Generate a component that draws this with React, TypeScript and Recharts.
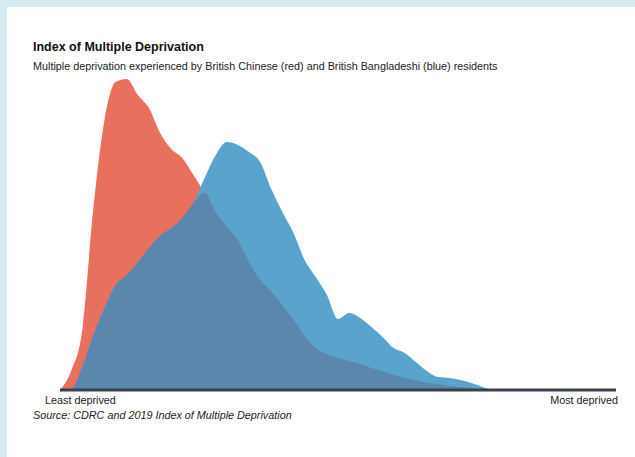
import { ComposedChart, Area, XAxis, YAxis, ReferenceLine } from "recharts";

// deprivation percentile, 0 = least deprived, 100 = most deprived
const deprivation = [
  0, 2, 4, 6, 8, 10, 12, 14, 16, 18, 20, 22, 24, 26, 28, 30, 32, 34, 36, 38, 40,
  42, 44, 46, 48, 50, 52, 54, 56, 58, 60, 62, 64, 66, 68, 70, 72, 74, 76, 78, 80,
  82, 84, 86, 88, 90, 92, 94, 96, 98, 100,
];

// density (arbitrary units)
const chinese = [
  0, 19, 60, 182, 270, 308, 311, 295, 282, 257, 241, 232, 215, 197, 178, 163,
  150, 128, 110, 98, 85, 70, 54, 42, 36, 32, 29, 26, 22, 19, 15, 12, 10, 7, 6,
  4, 3, 2, 1, 0.5, 0, 0, 0, 0, 0, 0, 0, 0, 0, 0, 0,
];

const bangladeshi = [
  0, 1, 23, 55, 82, 105, 115, 128, 142, 154, 162, 172, 187, 212, 235, 248, 245,
  238, 228, 201, 178, 157, 130, 113, 95, 71, 77, 72, 63, 53, 42, 37, 28, 19, 13,
  12, 10, 7, 3, 0, 0, 0, 0, 0, 0, 0, 0, 0, 0, 0, 0,
];

const data = deprivation.map((d, i) => ({
  d,
  chinese: chinese[i],
  bangladeshi: bangladeshi[i],
  both: Math.min(chinese[i], bangladeshi[i]),
}));

const font = "'Liberation Sans', Arial, sans-serif";

export default function App() {
  return (
    <div
      style={{
        position: "fixed",
        left: 0,
        top: 0,
        width: 635,
        height: 457,
        background: "#d5ecf4",
        fontFamily: font,
      }}
    >
      <div
        style={{
          position: "absolute",
          left: 7,
          top: 7,
          width: 628,
          height: 450,
          background: "#ffffff",
        }}
      />
      <div
        style={{
          position: "absolute",
          left: 33,
          top: 40,
          fontSize: 12.5,
          fontWeight: "bold",
          color: "#111",
          whiteSpace: "nowrap",
        }}
      >
        Index of Multiple Deprivation
      </div>
      <div
        style={{
          position: "absolute",
          left: 33,
          top: 60,
          fontSize: 10.8,
          color: "#222",
          whiteSpace: "nowrap",
        }}
      >
        Multiple deprivation experienced by British Chinese (red) and British
        Bangladeshi (blue) residents
      </div>
      <div style={{ position: "absolute", left: 0, top: 0 }}>
        <ComposedChart
          width={635}
          height={400}
          data={data}
          margin={{ top: 70, right: 19, left: 60, bottom: 10 }}
        >
          <XAxis dataKey="d" type="number" domain={[0, 100]} hide />
          <YAxis domain={[0, 320]} hide />
          <Area
            type="monotone"
            dataKey="chinese"
            fill="#e8705f"
            fillOpacity={1}
            stroke="none"
            isAnimationActive={false}
          />
          <Area
            type="monotone"
            dataKey="bangladeshi"
            fill="#5aa3cd"
            fillOpacity={1}
            stroke="none"
            isAnimationActive={false}
          />
          <Area
            type="monotone"
            dataKey="both"
            fill="#5b87ad"
            fillOpacity={1}
            stroke="none"
            isAnimationActive={false}
          />
          <ReferenceLine y={0} stroke="#38414c" strokeWidth={3} />
        </ComposedChart>
      </div>
      <div
        style={{
          position: "absolute",
          left: 45,
          top: 394,
          fontSize: 10.8,
          color: "#222",
          whiteSpace: "nowrap",
        }}
      >
        Least deprived
      </div>
      <div
        style={{
          position: "absolute",
          right: 17,
          top: 394,
          fontSize: 10.8,
          color: "#222",
          whiteSpace: "nowrap",
        }}
      >
        Most deprived
      </div>
      <div
        style={{
          position: "absolute",
          left: 33,
          top: 409,
          fontSize: 10.8,
          fontStyle: "italic",
          color: "#222",
          whiteSpace: "nowrap",
        }}
      >
        Source: CDRC and 2019 Index of Multiple Deprivation
      </div>
    </div>
  );
}
